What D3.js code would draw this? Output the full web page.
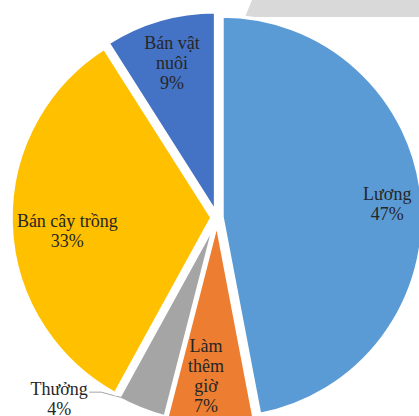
<!DOCTYPE html>
<html>
<head>
<meta charset="utf-8">
<script src="https://cdn.jsdelivr.net/npm/d3@7"></script>
<style>
  body { margin: 0; background: #fff; }
  svg { display: block; }
  .lbl { font-family: "Liberation Serif", "Times New Roman", serif; font-size: 18px; fill: #262626; }
</style>
</head>
<body>
<svg id="chart" width="419" height="416"></svg>
<script>
    // du lieu //
    var categories = ["Lương", "Làm thêm giờ", "Thưởng", "Bán cây trồng", "Bán vật nuôi"];
    var values = [47, 7, 4, 33, 9];
    var labelLines = [["Lương", "47%"], ["Làm", "thêm", "giờ", "7%"], ["Thưởng", "4%"], ["Bán cây trồng", "33%"], ["Bán vật", "nuôi", "9%"]];
    var sliceColors = ["#5B9BD5", "#ED7D31", "#A5A5A5", "#FFC000", "#4472C4"];

    var svg = d3.select("#chart"),
        width = +svg.attr("width"),
        height = +svg.attr("height");

    var cx = 217, cy = 217.5, r = 201, explode = 5;
    // vi tri nhan (ti le ban kinh + chinh sua) //
    var labelK = [0.826, 0.766, 0, 0.72, 0.776];
    var labelShift = [[0, 3], [-6, 0], [0, 0], [0, 9], [0, 0]];

    // mang xam phia tren //
    svg.append("path")
        .attr("d", "M252,0 L245,17 L" + width + ",17 L" + width + ",0 Z")
        .style("fill", "#d9d9d9");

    var pie = d3.pie().sort(null).value(function (d) {return d;});
    var arcs = pie(values);
    var arc = d3.arc().innerRadius(0).outerRadius(r);

    var g = svg.append("g").attr("transform", "translate(" + cx + "," + cy + ")");

    function offset(d, dist) {
        var a = (d.startAngle + d.endAngle) / 2;
        return [Math.sin(a) * dist, -Math.cos(a) * dist];
    }

    var slice = g.selectAll(".slice")
        .data(arcs)
        .enter()
        .append("g")
        .attr("class", "slice")
        .attr("transform", function (d) {
            var o = offset(d, explode);
            return "translate(" + o[0] + "," + o[1] + ")";
        });

    slice.append("path")
        .attr("d", arc)
        .style("fill", function (d, i) {return sliceColors[i];})
        .style("stroke", "#fff")
        .style("stroke-width", 3.5)
        .style("stroke-linejoin", "miter");

    // nhan //
    slice.each(function (d, i) {
        var lines = labelLines[i];
        var sel = d3.select(this);
        var p, lh = 20;
        if (i === 2) {
            // nhan ngoai cho Thuong, co duong dan //
            var e = offset(d, r * 0.97);
            sel.append("polyline")
                .attr("points", [[-126, 170], [-114, 170], e].map(function (q) {return q.join(",");}).join(" "))
                .style("fill", "none")
                .style("stroke", "#a6a6a6")
                .style("stroke-width", 1);
            p = [-156, 177];
        } else {
            p = offset(d, r * labelK[i]);
            p[0] += labelShift[i][0];
            p[1] += labelShift[i][1];
        }
        var t = sel.append("text")
            .attr("class", "lbl")
            .attr("text-anchor", "middle")
            .attr("x", p[0])
            .attr("y", p[1] - (lines.length - 1) * lh / 2 + 6);
        lines.forEach(function (s, k) {
            t.append("tspan")
                .attr("x", p[0])
                .attr("dy", k === 0 ? 0 : lh)
                .text(s);
        });
    });
</script>
</body>
</html>
